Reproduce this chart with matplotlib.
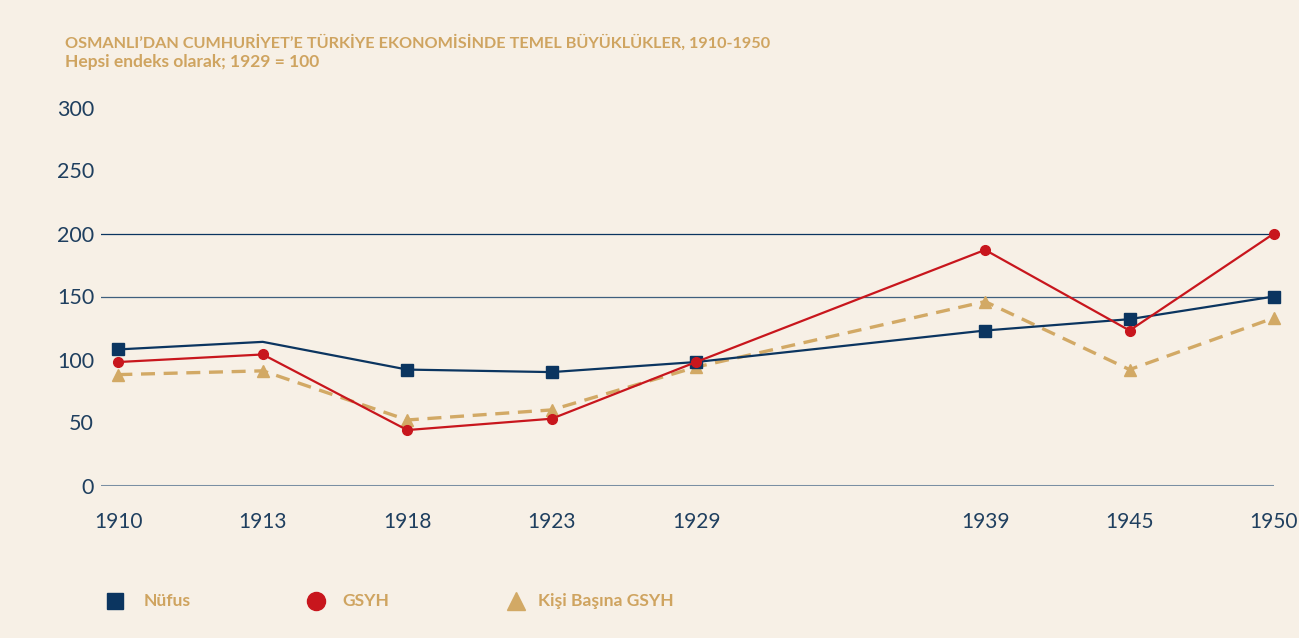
import matplotlib

matplotlib.use("Agg")
import matplotlib.pyplot as plt
from matplotlib.lines import Line2D

# data (index, 1929 = 100)
years = ["1910", "1913", "1918", "1923", "1929", "1939", "1945", "1950"]
nufus = [108, 114, 92, 90, 98, 123, 132, 150]
gsyh = [98, 104, 44, 53, 98, 187, 123, 200]
kisi_basina = [88, 91, 52, 60, 94, 146, 92, 133]
y_ticks = [0, 50, 100, 150, 200, 250, 300]

# layout: the 1929-1939 gap is drawn twice as wide as the others
x_pos = [0, 1, 2, 3, 4, 6, 7, 8]

BG = "#F7F0E6"
NAVY = "#0B3560"
RED = "#C8161D"
TAN = "#D2A965"
TITLE = "#CFA460"
AXIS = "#1F3F5F"

plt.rcParams["font.family"] = ["Lato", "DejaVu Sans"]

W, H = 1299, 638
fig = plt.figure(figsize=(W / 100, H / 100), dpi=100, facecolor=BG)

# axes placed in pixel terms
left, right = 101, 1274
bottom, top = 485.5, 107.5
ax = fig.add_axes([left / W, 1 - bottom / H, (right - left) / W, (bottom - top) / H])
ax.set_facecolor(BG)
ax.set_xlim(-0.12, 8.0)
ax.set_ylim(0, 300)

for s in ax.spines.values():
    s.set_visible(False)

ax.axhline(200, color=NAVY, lw=0.9, zorder=1)
ax.axhline(150, color="#3F5F7E", lw=0.9, zorder=1)
ax.axhline(0, color="#7A8FA3", lw=2.2, zorder=1)

ax.plot(x_pos, kisi_basina, color=TAN, lw=2.4, dashes=(4.2, 2.6),
        marker="^", ms=8, mec=TAN, mfc=TAN, clip_on=False, zorder=2)
ax.plot(x_pos, nufus, color=NAVY, lw=1.6, marker="s", ms=8,
        markevery=[0, 2, 3, 4, 5, 6, 7], clip_on=False, zorder=3)
ax.plot(x_pos, gsyh, color=RED, lw=1.6, marker="o", ms=7,
        clip_on=False, zorder=4)

ax.set_xticks(x_pos)
ax.set_xticklabels(years)
ax.set_yticks(y_ticks)
ax.tick_params(axis="both", length=0, labelsize=15.5, labelcolor=AXIS)
ax.tick_params(axis="x", pad=19, labelsize=15)
ax.tick_params(axis="y", pad=5)

fig.text(65 / W, 1 - 43 / H, "OSMANLI’DAN CUMHURİYET’E TÜRKİYE EKONOMİSİNDE TEMEL BÜYÜKLÜKLER, 1910-1950",
         color=TITLE, fontsize=11.7, fontweight="bold", va="center", ha="left")
fig.text(65 / W, 1 - 62 / H, "Hepsi endeks olarak; 1929 = 100",
         color=TITLE, fontsize=12.5, fontweight="bold", va="center", ha="left")

# legend drawn by hand on the figure
legend_items = [
    ("Nüfus", "s", NAVY, 115, 144, 12),
    ("GSYH", "o", RED, 316, 342, 13),
    ("Kişi Başına GSYH", "^", TAN, 516, 538, 13.5),
]
ly = 1 - 601 / H
for label, mk, col, mx, tx, ms in legend_items:
    fig.add_artist(Line2D([mx / W], [ly], marker=mk, ms=ms, color=col,
                          mec=col, ls="none", transform=fig.transFigure))
    fig.text(tx / W, ly, label, color=TITLE, fontsize=12.6, fontweight="bold",
             va="center", ha="left")

fig.savefig("out.png", dpi=100, facecolor=BG)
